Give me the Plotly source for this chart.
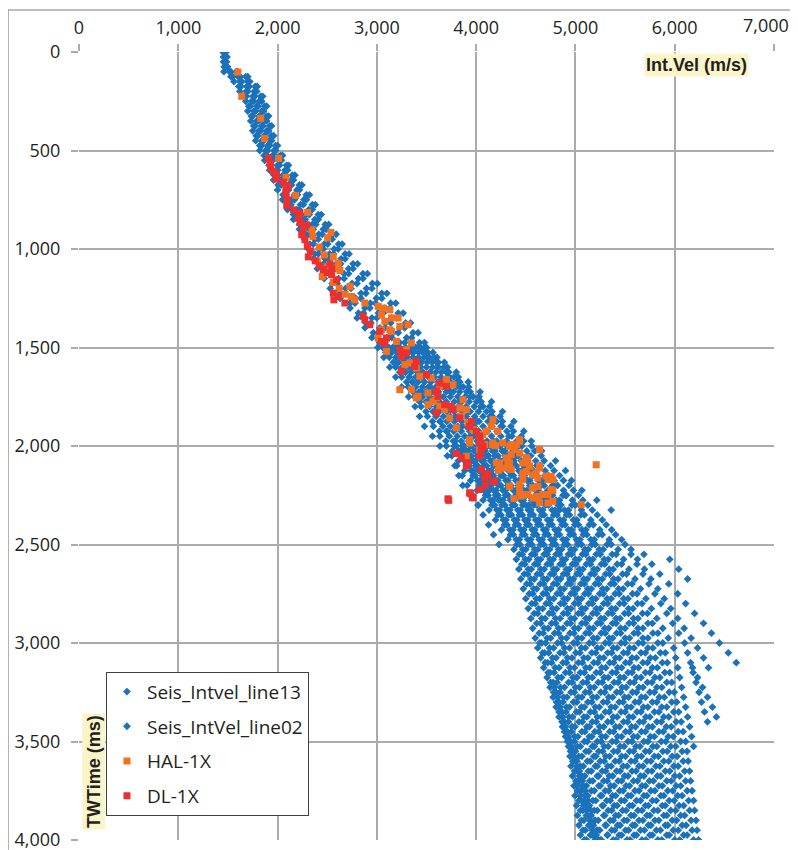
import plotly.graph_objects as go

# ---------------- axis ticks ----------------
X_TICK_VALUES = [0, 1000, 2000, 3000, 4000, 5000, 6000, 7000]
X_TICK_LABELS = ["0", "1,000", "2,000", "3,000", "4,000", "5,000", "6,000", ""]
X_LAST_LABEL = "7,000"

# ---------------- time grids (ms) ----------------
T13A = [0, 50, 100, 150, 200, 250, 300, 350, 400, 450, 500, 550, 600, 650, 700, 750, 800, 850, 900, 950,
        1000, 1050, 1100, 1150, 1200, 1250, 1300, 1350, 1400, 1450, 1500, 1550, 1600, 1650, 1700, 1750,
        1800, 1850, 1900, 1950, 2000, 2050, 2100, 2150, 2200, 2250, 2300]
T13B = [25, 75, 125, 175, 225, 275, 325, 375, 425, 475, 525, 575, 625, 675, 725, 775, 825, 875, 925, 975,
        1025, 1075, 1125, 1175, 1225, 1275, 1325, 1375, 1425, 1475, 1525, 1575, 1625, 1675, 1725, 1775,
        1825, 1875, 1925, 1975, 2025, 2075, 2125, 2175, 2225, 2275, 2325]
T02A = [1500, 1550, 1600, 1650, 1700, 1750, 1800, 1850, 1900, 1950, 2000, 2050, 2100, 2150, 2200, 2250,
        2300, 2350, 2400, 2450, 2500, 2550, 2600, 2650, 2700, 2750, 2800, 2850, 2900, 2950, 3000, 3050,
        3100, 3150, 3200, 3250, 3300, 3350, 3400, 3450, 3500, 3550, 3600, 3650, 3700, 3750, 3800, 3850,
        3900, 3950, 4000]
T02B = [1525, 1575, 1625, 1675, 1725, 1775, 1825, 1875, 1925, 1975, 2025, 2075, 2125, 2175, 2225, 2275,
        2325, 2375, 2425, 2475, 2525, 2575, 2625, 2675, 2725, 2775, 2825, 2875, 2925, 2975, 3025, 3075,
        3125, 3175, 3225, 3275, 3325, 3375, 3425, 3475, 3525, 3575, 3625, 3675, 3725, 3775, 3825, 3875,
        3925, 3975]
TEA = [2000, 2050, 2100, 2150, 2200, 2250, 2300, 2350, 2400, 2450, 2500, 2550, 2600, 2650, 2700, 2750,
       2800, 2850, 2900, 2950, 3000, 3050, 3100, 3150, 3200, 3250, 3300, 3350, 3400, 3450, 3500, 3550,
       3600, 3650, 3700, 3750, 3800, 3850, 3900, 3950, 4000]
TEB = [2025, 2075, 2125, 2175, 2225, 2275, 2325, 2375, 2425, 2475, 2525, 2575, 2625, 2675, 2725, 2775,
       2825, 2875, 2925, 2975, 3025, 3075, 3125, 3175, 3225, 3275, 3325, 3375, 3425, 3475, 3525, 3575,
       3625, 3675, 3725, 3775, 3825, 3875, 3925, 3975]

# ---------------- Seis_Intvel_line13 (interval velocity, m/s) ----------------
L13_F0 = [1450, 1455, 1460, 1560, 1620, 1680, 1700, 1730, 1750, 1780, 1820, 1870, 1920, 1960, 2000, 2050,
          2100, 2160, 2220, 2270, 2310, 2360, 2400, 2470, 2530, 2630, 2730, 2800, 2880, 2950, 3010, 3070,
          3130, 3190, 3250, 3320, 3385, 3430, 3480, 3560, 3635, 3710, 3785, 3825, 3865, 3940, 4020]
L13_F1 = [1456, 1462, 1530, 1610, 1670, 1710, 1735, 1760, 1785, 1820, 1865, 1915, 1965, 2005, 2055, 2105,
          2160, 2220, 2280, 2325, 2375, 2420, 2480, 2550, 2630, 2730, 2815, 2890, 2965, 3030, 3090]
L13_F2 = [1460, 1470, 1550, 1630, 1685, 1725, 1750, 1775, 1800, 1840, 1890, 1935, 1985, 2035, 2085, 2135,
          2190, 2255, 2315, 2360, 2410, 2465, 2530, 2600, 2680, 2780, 2865, 2940, 3015, 3080, 3145, 3215,
          3285, 3360, 3440, 3515, 3580, 3640, 3710, 3790, 3870, 3955, 4025, 4070, 4135, 4225, 4310]
L13_F3 = [1460, 1465, 1515, 1620, 1685, 1740, 1760, 1790, 1810, 1840, 1880, 1935, 1985, 2035, 2085, 2140,
          2195, 2255, 2320, 2375, 2420, 2480, 2535, 2615, 2685, 2785, 2880, 2950, 3030, 3100, 3160]
L13_F4 = [1465, 1470, 1530, 1640, 1700, 1760, 1780, 1810, 1830, 1860, 1900, 1950, 2000, 2060, 2110, 2170,
          2220, 2280, 2360, 2410, 2460, 2520, 2580, 2670, 2740, 2840, 2930, 3000, 3080, 3150, 3210, 3290,
          3370, 3460, 3540, 3630, 3715, 3790, 3860, 3940, 4020, 4120, 4220, 4270, 4320, 4420, 4530]
L13_F5 = [1471, 1475, 1605, 1690, 1750, 1790, 1815, 1840, 1865, 1900, 1950, 2000, 2055, 2110, 2170, 2230,
          2285, 2350, 2415, 2470, 2525, 2590, 2670, 2750, 2840, 2935, 3015, 3090, 3165, 3230, 3300]
L13_F6 = [1472, 1480, 1625, 1715, 1770, 1805, 1830, 1855, 1880, 1920, 1970, 2020, 2080, 2140, 2200, 2260,
          2320, 2385, 2450, 2505, 2565, 2635, 2715, 2800, 2890, 2985, 3065, 3140, 3215, 3280, 3355, 3445,
          3540, 3640, 3740, 3835, 3920, 4010, 4100, 4175, 4265, 4380, 4465, 4515, 4600, 4720, 4840]
L13_F7 = [1478, 1480, 1585, 1700, 1765, 1815, 1840, 1865, 1890, 1915, 1965, 2015, 2075, 2135, 2195, 2265,
          2315, 2375, 2460, 2515, 2570, 2640, 2715, 2815, 2895, 2995, 3080, 3150, 3230, 3300, 3360]
L13_F8 = [1480, 1485, 1600, 1720, 1790, 1840, 1860, 1890, 1910, 1940, 1980, 2040, 2100, 2160, 2220, 2290,
          2350, 2410, 2490, 2550, 2610, 2680, 2760, 2860, 2950, 3050, 3130, 3200, 3280, 3350, 3410, 3510,
          3610, 3730, 3840, 3940, 4045, 4140, 4250, 4330, 4400, 4530, 4650, 4710, 4770, 4900, 5040]
L13_F9 = [1486, 1490, 1680, 1775, 1830, 1870, 1890, 1920, 1940, 1980, 2030, 2090, 2150, 2220, 2290, 2350,
          2410, 2480, 2555, 2615, 2680, 2760, 2860, 2955, 3050, 3140, 3215, 3290, 3365, 3430, 3510]
L13_F10 = [1490, 1495, 1700, 1795, 1850, 1890, 1910, 1940, 1960, 2000, 2050, 2110, 2175, 2245, 2320, 2380,
           2440, 2515, 2590, 2650, 2720, 2805, 2905, 3005, 3100, 3190, 3265, 3340, 3415, 3480, 3565, 3680,
           3800, 3920, 4040, 4155, 4265, 4380, 4480, 4555, 4660, 4800, 4900, 4960, 5065, 5215, 5360]
L13_D1 = [3060, 3125, 3190, 3250, 3315, 3380, 3445, 3510, 3570, 3635, 3700, 3755, 3805, 3860, 3910, 3965,
          4020, 4070, 4125, 4175, 4230]

# ---------------- Seis_IntVel_line02 ----------------
L02_D2 = [3100, 3165, 3230, 3300, 3365, 3430, 3495, 3560, 3630, 3695, 3760, 3820, 3885, 3945, 4010, 4070,
          4130, 4195, 4255, 4320, 4380, 4405, 4430, 4450, 4475, 4500, 4525, 4550, 4570, 4595, 4620, 4650,
          4680, 4715, 4745, 4775, 4805, 4835, 4870, 4900, 4930, 4945, 4955, 4970, 4985, 4995, 5010, 5020,
          5035, 5050]
L02_D3 = [3120, 3190, 3255, 3325, 3390, 3460, 3530, 3595, 3665, 3730, 3800, 3865, 3930, 3990, 4055, 4120,
          4185, 4250, 4310, 4375, 4440, 4465, 4490, 4520, 4545, 4570, 4595, 4620, 4650, 4675, 4700, 4730,
          4760, 4785, 4815, 4845, 4875, 4905, 4930, 4960, 4990, 5000, 5015, 5025, 5040, 5050, 5060, 5075,
          5085, 5100, 5110]
L02_D4 = [3150, 3220, 3290, 3355, 3425, 3495, 3565, 3635, 3700, 3770, 3840, 3905, 3970, 4040, 4105, 4170,
          4235, 4300, 4370, 4435, 4500, 4530, 4555, 4585, 4610, 4640, 4670, 4695, 4725, 4750, 4780, 4805,
          4835, 4860, 4890, 4915, 4940, 4970, 4995, 5025, 5050, 5065, 5080, 5095, 5110, 5125, 5140, 5155,
          5170, 5185]
L02_D5 = [3180, 3250, 3320, 3390, 3460, 3530, 3600, 3670, 3740, 3810, 3880, 3950, 4015, 4085, 4150, 4220,
          4290, 4355, 4425, 4490, 4560, 4590, 4620, 4650, 4680, 4710, 4740, 4770, 4800, 4830, 4860, 4885,
          4910, 4940, 4965, 4990, 5015, 5040, 5070, 5095, 5120, 5135, 5150, 5160, 5175, 5190, 5205, 5220,
          5230, 5245, 5260]
L02_D6 = [3200, 3270, 3345, 3415, 3490, 3560, 3630, 3705, 3775, 3850, 3920, 3990, 4060, 4130, 4200, 4270,
          4340, 4410, 4480, 4550, 4620, 4650, 4685, 4715, 4750, 4780, 4810, 4845, 4875, 4910, 4940, 4965,
          4990, 5015, 5040, 5065, 5090, 5115, 5140, 5165, 5190, 5205, 5220, 5235, 5250, 5265, 5280, 5295,
          5310, 5325]
L02_D7 = [3230, 3305, 3375, 3450, 3520, 3595, 3670, 3740, 3815, 3885, 3960, 4030, 4105, 4175, 4250, 4320,
          4390, 4465, 4535, 4610, 4680, 4715, 4750, 4780, 4815, 4850, 4885, 4920, 4950, 4985, 5020, 5045,
          5070, 5090, 5115, 5140, 5165, 5190, 5210, 5235, 5260, 5275, 5290, 5305, 5320, 5335, 5350, 5365,
          5380, 5395, 5410]
L02_D8 = [3260, 3335, 3410, 3480, 3555, 3630, 3705, 3780, 3850, 3925, 4000, 4075, 4150, 4220, 4295, 4370,
          4445, 4520, 4590, 4665, 4740, 4775, 4810, 4850, 4885, 4920, 4955, 4990, 5030, 5065, 5100, 5125,
          5145, 5170, 5190, 5215, 5240, 5260, 5285, 5305, 5330, 5345, 5360, 5375, 5390, 5405, 5420, 5435,
          5450, 5465]
L02_D9 = [3290, 3365, 3440, 3520, 3595, 3670, 3745, 3820, 3900, 3975, 4050, 4125, 4200, 4275, 4350, 4425,
          4500, 4575, 4650, 4725, 4800, 4840, 4875, 4915, 4950, 4990, 5030, 5065, 5105, 5140, 5180, 5205,
          5225, 5250, 5270, 5295, 5320, 5340, 5365, 5385, 5410, 5425, 5440, 5450, 5465, 5480, 5495, 5510,
          5520, 5535, 5550]
L02_D10 = [3310, 3390, 3465, 3545, 3620, 3700, 3780, 3855, 3935, 4010, 4090, 4165, 4245, 4320, 4400, 4475,
           4550, 4630, 4705, 4785, 4860, 4900, 4940, 4980, 5020, 5060, 5100, 5140, 5180, 5220, 5260, 5285,
           5305, 5330, 5350, 5375, 5400, 5420, 5445, 5465, 5490, 5505, 5520, 5530, 5545, 5560, 5575, 5590,
           5600, 5615]
L02_D11 = [3340, 3420, 3500, 3580, 3660, 3740, 3820, 3900, 3980, 4060, 4140, 4220, 4295, 4375, 4450, 4530,
           4610, 4685, 4765, 4840, 4920, 4960, 5005, 5045, 5090, 5130, 5170, 5215, 5255, 5300, 5340, 5365,
           5385, 5410, 5430, 5455, 5480, 5500, 5525, 5545, 5570, 5585, 5600, 5610, 5625, 5640, 5655, 5670,
           5680, 5695, 5710]
L02_D12 = [3370, 3450, 3535, 3615, 3700, 3780, 3860, 3945, 4025, 4110, 4190, 4270, 4350, 4430, 4510, 4590,
           4670, 4750, 4830, 4910, 4990, 5035, 5075, 5120, 5160, 5205, 5250, 5290, 5335, 5375, 5420, 5445,
           5465, 5490, 5510, 5535, 5560, 5580, 5605, 5625, 5650, 5665, 5680, 5690, 5705, 5720, 5735, 5750,
           5760, 5775]
L02_D13 = [3390, 3475, 3560, 3645, 3730, 3815, 3900, 3985, 4070, 4155, 4240, 4320, 4405, 4485, 4570, 4650,
           4730, 4815, 4895, 4980, 5060, 5105, 5150, 5190, 5235, 5280, 5325, 5370, 5410, 5455, 5500, 5525,
           5545, 5570, 5590, 5615, 5640, 5660, 5685, 5705, 5730, 5745, 5760, 5770, 5785, 5800, 5815, 5830,
           5840, 5855, 5870]
L02_D14 = [3420, 3505, 3595, 3680, 3770, 3855, 3940, 4030, 4115, 4205, 4290, 4375, 4460, 4540, 4625, 4710,
           4795, 4880, 4960, 5045, 5130, 5175, 5220, 5270, 5315, 5360, 5405, 5450, 5500, 5545, 5590, 5615,
           5635, 5660, 5680, 5705, 5730, 5750, 5775, 5795, 5820, 5835, 5850, 5860, 5875, 5890, 5905, 5920,
           5930, 5945]
L02_D15 = [3440, 3530, 3620, 3710, 3800, 3890, 3980, 4070, 4160, 4250, 4340, 4425, 4510, 4600, 4685, 4770,
           4855, 4940, 5030, 5115, 5200, 5250, 5295, 5345, 5390, 5440, 5490, 5535, 5585, 5630, 5680, 5705,
           5725, 5750, 5770, 5795, 5820, 5840, 5865, 5885, 5910, 5925, 5940, 5950, 5965, 5980, 5995, 6010,
           6020, 6035, 6050]
L02_D16 = [3460, 3555, 3650, 3740, 3835, 3930, 4025, 4120, 4210, 4305, 4400, 4490, 4575, 4665, 4750, 4840,
           4930, 5015, 5105, 5190, 5280, 5330, 5380, 5430, 5480, 5530, 5580, 5630, 5680, 5730, 5780, 5805,
           5825, 5850, 5870, 5895, 5920, 5940, 5965, 5985, 6010, 6025, 6035, 6050, 6060, 6075, 6090, 6100,
           6115, 6125]
L02_D17 = [3480, 3580, 3675, 3775, 3870, 3970, 4070, 4165, 4265, 4360, 4460, 4550, 4640, 4730, 4820, 4910,
           5000, 5090, 5180, 5270, 5360, 5410, 5465, 5515, 5570, 5620, 5670, 5725, 5775, 5830, 5880, 5905,
           5925, 5950, 5970, 5995, 6020, 6040, 6065, 6085, 6110, 6125, 6135, 6150, 6160, 6175, 6190, 6200,
           6215, 6225, 6240]
L02_D18 = [3500, 3600, 3700, 3805, 3905, 4005, 4105, 4205, 4310, 4410, 4510, 4600, 4695, 4785, 4880, 4970,
           5060, 5155, 5245, 5340, 5430, 5485, 5540, 5600, 5655, 5710, 5765, 5820, 5880, 5935, 5990, 6010,
           6030, 6050, 6070, 6090, 6110, 6130, 6150, 6170, 6190]
L02_D19 = [3500, 3605, 3710, 3820, 3925, 4030, 4135, 4240, 4350, 4455, 4560, 4655, 4750, 4840, 4935, 5030,
           5125, 5220, 5310, 5405, 5500, 5560, 5620, 5680, 5740, 5800, 5860, 5920, 5980, 6040, 6100, 6130,
           6160, 6185, 6215, 6245, 6270, 6300, 6330]
L02_D20 = [3510, 3620, 3725, 3835, 3940, 4050, 4160, 4265, 4375, 4480, 4590, 4685, 4785, 4880, 4980, 5075,
           5170, 5270, 5365, 5465, 5560, 5625, 5695, 5760, 5830, 5895, 5960, 6030, 6095, 6165, 6230, 6290,
           6340]
# deeper functions starting at 2000 ms
L02_E2 = [3780, 3845, 3905, 3970, 4030, 4095, 4160, 4220, 4285, 4345, 4410, 4435, 4460, 4485, 4510, 4535,
          4560, 4585, 4610, 4635, 4660, 4690, 4720, 4745, 4775, 4805, 4835, 4865, 4890, 4920, 4950, 4965,
          4980, 4990, 5005, 5020, 5035, 5050, 5060, 5075, 5090]
L02_E3 = [3820, 3885, 3950, 4015, 4080, 4145, 4210, 4275, 4340, 4405, 4470, 4495, 4525, 4550, 4580, 4605,
          4630, 4660, 4685, 4715, 4740, 4770, 4795, 4825, 4850, 4880, 4910, 4935, 4965, 4990, 5020, 5035,
          5050, 5065, 5080, 5095, 5110, 5120, 5135, 5150]
L02_E4 = [3860, 3925, 3995, 4060, 4130, 4195, 4260, 4330, 4395, 4465, 4530, 4560, 4590, 4615, 4645, 4675,
          4705, 4735, 4760, 4790, 4820, 4845, 4875, 4900, 4930, 4955, 4980, 5010, 5035, 5065, 5090, 5105,
          5120, 5130, 5145, 5160, 5175, 5190, 5200, 5215, 5230]
L02_E5 = [3900, 3970, 4040, 4105, 4175, 4245, 4315, 4385, 4450, 4520, 4590, 4620, 4650, 4680, 4710, 4740,
          4770, 4800, 4830, 4860, 4890, 4920, 4945, 4975, 5000, 5030, 5060, 5085, 5115, 5140, 5170, 5185,
          5200, 5220, 5235, 5250, 5270, 5285, 5300, 5320]
L02_E6 = [3940, 4010, 4080, 4155, 4225, 4295, 4365, 4435, 4510, 4580, 4650, 4685, 4715, 4750, 4780, 4815,
          4850, 4880, 4915, 4945, 4980, 5005, 5030, 5050, 5075, 5100, 5125, 5150, 5170, 5195, 5220, 5235,
          5250, 5270, 5285, 5300, 5315, 5330, 5350, 5365, 5380]
L02_E7 = [3980, 4055, 4125, 4200, 4270, 4345, 4420, 4490, 4565, 4635, 4710, 4745, 4780, 4815, 4850, 4885,
          4920, 4955, 4990, 5025, 5060, 5085, 5105, 5130, 5150, 5175, 5200, 5220, 5245, 5265, 5290, 5305,
          5325, 5340, 5355, 5375, 5390, 5405, 5425, 5440]
L02_E8 = [4025, 4100, 4175, 4250, 4325, 4400, 4470, 4545, 4620, 4695, 4770, 4805, 4845, 4880, 4920, 4955,
          4990, 5030, 5065, 5105, 5140, 5165, 5185, 5210, 5230, 5255, 5280, 5300, 5325, 5345, 5370, 5385,
          5400, 5415, 5430, 5445, 5460, 5475, 5490, 5505, 5520]
L02_E9 = [4070, 4145, 4220, 4300, 4375, 4450, 4525, 4600, 4680, 4755, 4830, 4870, 4910, 4945, 4985, 5025,
          5065, 5105, 5140, 5180, 5220, 5245, 5265, 5290, 5310, 5335, 5360, 5380, 5405, 5425, 5450, 5465,
          5480, 5495, 5510, 5530, 5545, 5560, 5575, 5590]
L02_E10 = [4115, 4190, 4270, 4350, 4425, 4505, 4580, 4660, 4735, 4815, 4890, 4930, 4970, 5015, 5055, 5095,
           5135, 5175, 5220, 5260, 5300, 5325, 5345, 5370, 5390, 5415, 5440, 5460, 5485, 5505, 5530, 5545,
           5560, 5570, 5585, 5600, 5615, 5630, 5640, 5655, 5670]
L02_E11 = [4165, 4245, 4325, 4400, 4480, 4560, 4640, 4720, 4795, 4875, 4955, 5000, 5040, 5085, 5125, 5170,
           5210, 5255, 5295, 5340, 5380, 5405, 5425, 5450, 5470, 5495, 5520, 5540, 5565, 5585, 5610, 5625,
           5640, 5655, 5670, 5690, 5705, 5720, 5735, 5750]
L02_E12 = [4215, 4295, 4375, 4460, 4540, 4620, 4700, 4780, 4865, 4945, 5025, 5070, 5110, 5155, 5200, 5245,
           5285, 5330, 5375, 5415, 5460, 5485, 5505, 5530, 5550, 5575, 5600, 5620, 5645, 5665, 5690, 5705,
           5720, 5730, 5745, 5760, 5775, 5790, 5800, 5815, 5830]
L02_E13 = [4265, 4350, 4430, 4515, 4600, 4680, 4765, 4845, 4930, 5010, 5095, 5140, 5185, 5230, 5275, 5320,
           5365, 5410, 5455, 5500, 5545, 5570, 5590, 5615, 5640, 5665, 5685, 5710, 5735, 5755, 5780, 5795,
           5810, 5825, 5840, 5860, 5875, 5890, 5905, 5920]
L02_E14 = [4315, 4400, 4485, 4570, 4655, 4740, 4825, 4910, 4995, 5080, 5165, 5210, 5260, 5305, 5355, 5400,
           5445, 5495, 5540, 5590, 5635, 5660, 5680, 5705, 5725, 5750, 5775, 5795, 5820, 5840, 5865, 5880,
           5890, 5905, 5920, 5930, 5945, 5960, 5975, 5985, 6000]
L02_E15 = [4370, 4455, 4545, 4630, 4720, 4805, 4890, 4980, 5065, 5155, 5240, 5290, 5340, 5385, 5435, 5485,
           5535, 5585, 5630, 5680, 5730, 5755, 5775, 5800, 5820, 5845, 5870, 5890, 5915, 5935, 5960, 5975,
           5990, 6000, 6015, 6030, 6045, 6060, 6075, 6090]
L02_E16 = [4430, 4520, 4610, 4695, 4785, 4875, 4965, 5055, 5140, 5230, 5320, 5370, 5420, 5475, 5525, 5575,
           5625, 5675, 5730, 5780, 5830, 5855, 5875, 5900, 5920, 5945, 5970, 5990, 6015, 6035, 6060, 6075,
           6085, 6100, 6110, 6125, 6140, 6150, 6165, 6175, 6190]
# short outlying / restarting streaks
S1_T = [2950, 3000, 3050, 3100]
S1_V = [6370, 6450, 6540, 6620]
S2_T = [2575, 2625, 2675]
S2_V = [5950, 6040, 6130]
S3_T = [3125, 3175, 3225, 3275, 3325, 3375]
S3_V = [6180, 6230, 6280, 6330, 6380, 6420]
S4_T = [2550, 2600, 2650, 2700, 2750, 2800, 2850, 2900]
S4_V = [5690, 5770, 5850, 5940, 6030, 6110, 6200, 6290]
R1_T = [3000, 3050, 3100, 3150, 3200, 3250, 3300, 3350, 3400, 3450, 3500, 3550, 3600, 3650, 3700, 3750,
        3800, 3850, 3900, 3950, 4000]
R1_V = [4640, 4670, 4695, 4725, 4750, 4780, 4810, 4835, 4865, 4890, 4920, 4950, 4975, 5005, 5030, 5060,
        5090, 5115, 5145, 5170, 5200]
R2_T = [3225, 3275, 3325, 3375, 3425, 3475, 3525, 3575, 3625, 3675, 3725, 3775, 3825, 3875, 3925, 3975]
R2_V = [4790, 4820, 4845, 4875, 4900, 4930, 4960, 4985, 5015, 5040, 5070, 5100, 5125, 5155, 5180, 5210]
R3_T = [3500, 3550, 3600, 3650, 3700, 3750, 3800, 3850, 3900, 3950, 4000]
R3_V = [4950, 4980, 5010, 5040, 5070, 5100, 5130, 5160, 5190, 5220, 5250]
R4_T = [3725, 3775, 3825, 3875, 3925, 3975]
R4_V = [5020, 5050, 5080, 5110, 5140, 5170]

# ---------------- HAL-1X well ----------------
HAL_V = [1599, 1639, 1830, 1870, 2011, 2085, 2182, 2303, 2346, 2537, 2356, 2504,
         2420, 2470, 2400, 2500, 2450, 2560, 2620, 2680,
         2561, 2611, 2577, 2628, 2728, 2745, 2778, 2879, 3013, 3063, 3130, 3046, 3147, 3214, 3080, 3231,
         3314, 3046, 3130, 3147, 3013, 3197, 3348, 3298, 3097, 3248, 3331, 3281, 3398, 3231, 3348, 3415,
         3398, 3515, 3432, 3549, 3700, 3633, 3767, 3515, 3566, 3599, 3633, 3683, 3867, 3834, 3901, 3850,
         3800, 3733, 3917, 4169, 4152, 4219, 4101, 4068, 3968, 4085, 4169, 4269, 4353, 4386, 4437, 4638,
         3901, 3934, 4236, 4303, 4336, 4353, 4470, 4504, 4537, 4638, 4705, 4738, 4755, 4571, 4470, 4437,
         4336, 4453, 4520, 4621, 4671,
         3935, 4163, 4196, 4035, 4354, 4438, 4337, 4404, 4438, 4505, 4521, 4639, 4203, 4320, 4287, 4226,
         4471, 4505, 4538, 4639, 4572, 4605, 4622, 4723, 4739, 4773, 4756, 4337, 4438, 4572, 4622, 4438,
         4471, 4572, 4605, 4639, 4723, 4773, 4723, 4773, 4381, 4236, 5209, 5058]
HAL_T = [102, 225, 337, 439, 540, 636, 728, 814, 902, 916, 936, 943,
         990, 1030, 1060, 1090, 1140, 1170, 1200, 1230,
         1038, 1072, 1097, 1109, 1190, 1241, 1258, 1274, 1291, 1300, 1308, 1334, 1350, 1350, 1367, 1393,
         1384, 1410, 1410, 1418, 1452, 1469, 1477, 1511, 1520, 1545, 1579, 1587, 1604, 1714, 1714, 1748,
         1756, 1731, 1646, 1655, 1663, 1697, 1689, 1790, 1773, 1756, 1798, 1815, 1765, 1807, 1815, 1849,
         1908, 1858, 1883, 1866, 1900, 1925, 1925, 1942, 1917, 1993, 1984, 1984, 1993, 2018, 1968, 2018,
         2052, 1968, 2086, 2060, 2086, 2119, 2086, 2060, 2102, 2102, 2153, 2170, 2221, 2212, 2170, 2204,
         2204, 2254, 2246, 2263, 2246,
         1985, 1993, 1998, 2019, 2044, 2036, 2002, 1993, 1976, 2061, 2070, 2019, 2086, 2078, 2112, 2124,
         2137, 2129, 2103, 2112, 2146, 2137, 2163, 2171, 2163, 2171, 2154, 2205, 2196, 2213, 2205, 2235,
         2247, 2264, 2256, 2289, 2289, 2281, 2247, 2225, 2267, 2095, 2095, 2298]

# ---------------- DL-1X well ----------------
DL_V = [1907, 1924, 1931, 1958, 1991, 1984, 2058, 2085, 2108, 2085, 2098, 2092, 2159, 2226, 2209, 2226,
        2293, 2259, 2243, 2276,
        2300, 2330, 2310, 2380, 2420, 2460, 2500, 2527, 2545,
        2544, 2594, 2561, 2611, 2567, 2678, 2862, 2879, 2929, 3030, 3097, 3080, 3046, 3231, 3298, 3248,
        3398, 3381, 3248, 3499, 3633, 3700, 3599, 3616, 3683, 3750, 3599, 3767, 3834, 3951, 3934, 4001,
        4035, 4051, 4051, 4035, 3800, 3850, 3917, 3901, 4051, 4101, 4085, 4169, 4035, 3934, 3968, 3716,
        4035, 4069, 4052, 4119, 4186, 4092, 3941, 3962, 3724]
DL_T = [539, 564, 589, 606, 623, 645, 662, 699, 682, 725, 750, 779, 801, 818, 843, 865,
        877, 902, 928, 953,
        985, 1010, 1040, 1060, 1085, 1105, 1120, 1075, 1100,
        1131, 1156, 1224, 1241, 1258, 1274, 1342, 1359, 1384, 1418, 1452, 1477, 1469, 1511, 1528, 1545,
        1570, 1596, 1621, 1638, 1680, 1697, 1722, 1748, 1790, 1798, 1832, 1815, 1858, 1875, 1900, 1925,
        1950, 1984, 2018, 2052, 2038, 2060, 2085, 2102, 2119, 2145, 2162, 2179, 2221, 2238, 2263, 2268,
        1976, 2002, 2027, 2142, 2180, 2200, 2239, 2262, 2276]

# ---------------- assemble ----------------
LINE13 = [(L13_F0, T13A), (L13_F1, T13B), (L13_F2, T13B), (L13_F3, T13A), (L13_F4, T13A),
          (L13_F5, T13B), (L13_F6, T13B), (L13_F7, T13A), (L13_F8, T13A), (L13_F9, T13B),
          (L13_F10, T13B), (L13_D1, T02A)]
LINE02 = [(L02_D2, T02B), (L02_D3, T02A), (L02_D4, T02B), (L02_D5, T02A), (L02_D6, T02B),
          (L02_D7, T02A), (L02_D8, T02B), (L02_D9, T02A), (L02_D10, T02B), (L02_D11, T02A),
          (L02_D12, T02B), (L02_D13, T02A), (L02_D14, T02B), (L02_D15, T02A), (L02_D16, T02B),
          (L02_D17, T02A), (L02_D18, T02B), (L02_D19, T02A), (L02_D20, T02B),
          (L02_E2, TEA), (L02_E3, TEB), (L02_E4, TEA), (L02_E5, TEB), (L02_E6, TEA), (L02_E7, TEB),
          (L02_E8, TEA), (L02_E9, TEB), (L02_E10, TEA), (L02_E11, TEB), (L02_E12, TEA), (L02_E13, TEB),
          (L02_E14, TEA), (L02_E15, TEB), (L02_E16, TEA),
          (S1_V, S1_T), (S2_V, S2_T), (S3_V, S3_T), (S4_V, S4_T),
          (R1_V, R1_T), (R2_V, R2_T), (R3_V, R3_T), (R4_V, R4_T)]


def flatten(curves):
    xs, ys = [], []
    for v, t in curves:
        xs.extend(v)
        ys.extend(t[:len(v)])
    return xs, ys


BLUE = "#1B72BA"
ORANGE = "#F37021"
RED = "#EC2F2F"
GRID = "#ABABAB"
TXT = "#231F20"
FONT = "Open Sans, Noto Sans, sans-serif"

x13, y13 = flatten(LINE13)
x02, y02 = flatten(LINE02)

fig = go.Figure()
fig.add_trace(go.Scatter(x=x13, y=y13, mode="markers", name="Seis_Intvel_line13", legendgroup="a",
                         marker=dict(symbol="diamond", size=6, color=BLUE)))
fig.add_trace(go.Scatter(x=x02, y=y02, mode="markers", name="Seis_IntVel_line02", legendgroup="b",
                         marker=dict(symbol="diamond", size=6, color=BLUE)))
fig.add_trace(go.Scatter(x=HAL_V, y=HAL_T, mode="markers", name="HAL-1X", legendgroup="c",
                         marker=dict(symbol="square", size=7, color=ORANGE)))
fig.add_trace(go.Scatter(x=DL_V, y=DL_T, mode="markers", name="DL-1X", legendgroup="d",
                         marker=dict(symbol="square", size=7, color=RED)))

TICKFONT = dict(family=FONT, size=18, color=TXT)

fig.update_layout(
    width=790, height=842,
    margin=dict(l=71, r=24, t=44, b=10),
    paper_bgcolor="white", plot_bgcolor="white",
    font=dict(family=FONT, size=18, color=TXT),
    showlegend=True,
    legend=dict(x=0.0388, y=0.2136, xanchor="left", yanchor="top",
                bgcolor="white", bordercolor="#404040", borderwidth=1,
                font=dict(family=FONT, size=19, color=TXT),
                tracegroupgap=7, traceorder="grouped"),
    xaxis=dict(range=[0, 7000], side="top", tickmode="array", tickvals=X_TICK_VALUES,
               ticktext=X_TICK_LABELS,
               showgrid=True, gridcolor=GRID, gridwidth=1.5, zeroline=False, showline=False,
               ticks="outside", ticklen=7, tickcolor=GRID, tickwidth=1.5,
               ticklabelstandoff=3, automargin=False, ticklabeloverflow="allow",
               tickfont=TICKFONT),
    yaxis=dict(range=[4000, 0], dtick=500, tick0=0, tickformat=",d",
               showgrid=True, gridcolor=GRID, gridwidth=1.5, zeroline=False, showline=False,
               ticks="outside", ticklen=7, tickcolor=GRID, tickwidth=1.5,
               ticklabelstandoff=7, automargin=False, ticklabeloverflow="allow",
               tickfont=TICKFONT),
    annotations=[
        dict(text=X_LAST_LABEL, xref="paper", yref="paper", x=0.9885, y=1.0343,
             xanchor="center", yanchor="middle", showarrow=False, font=TICKFONT),
        dict(text="<b>Int.Vel (m/s)</b>", xref="paper", yref="paper", x=0.888, y=0.983,
             xanchor="center", yanchor="middle", showarrow=False, bgcolor="#F9F5C9", borderpad=1,
             font=dict(family="Liberation Sans, Arial, sans-serif", size=18, color=TXT)),
        dict(text="<b>TWTime (ms)</b>", xref="paper", yref="paper", x=0.0206, y=0.0867,
             xanchor="center", yanchor="middle", textangle=-90, showarrow=False,
             bgcolor="#F9F5C9", borderpad=1,
             font=dict(family="Liberation Sans, Arial, sans-serif", size=18, color=TXT)),
    ],
    shapes=[dict(type="rect", xref="paper", yref="paper", x0=-0.102, x1=1.05, y0=-0.03, y1=1.0533,
                 line=dict(color="#A6A6A6", width=1.5), fillcolor="rgba(0,0,0,0)", layer="below")],
)

fig.write_html("out.html")
